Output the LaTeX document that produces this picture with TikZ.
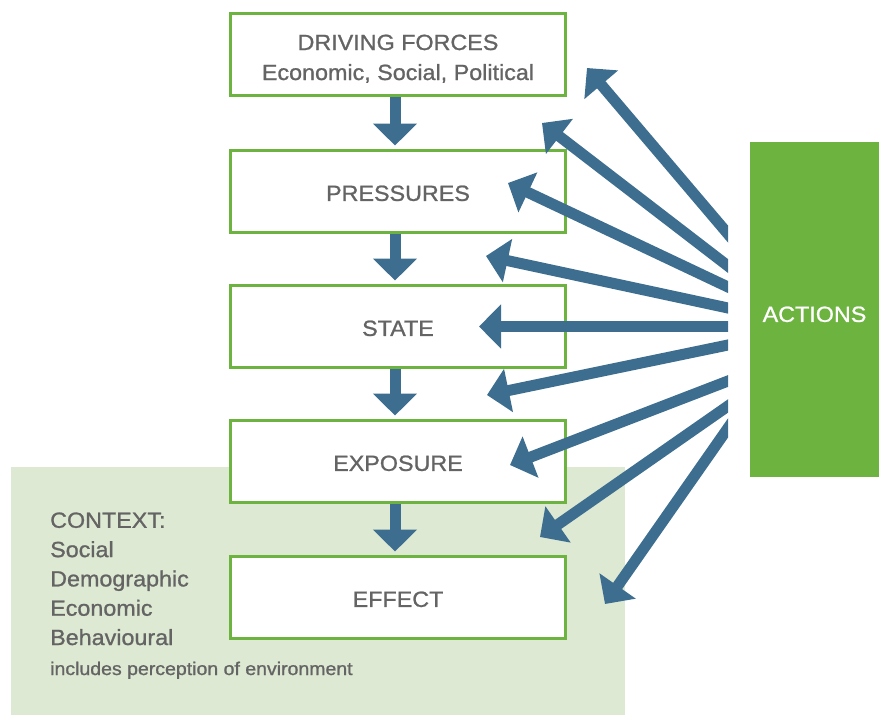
\documentclass[tikz,border=0pt]{standalone}
\usepackage{fontspec}
\setmainfont{Liberation Sans}[FakeStretch=1.06,FakeBold=1]
\usetikzlibrary{arrows.meta}
\definecolor{boxgreen}{HTML}{6DB33F}
\definecolor{ctxgreen}{HTML}{DDE9D2}
\definecolor{arrowblue}{HTML}{3D6E8F}
\definecolor{txtgray}{HTML}{646464}
\begin{document}
\begin{tikzpicture}[x=1pt,y=-1pt,
  stagebox/.style={draw=boxgreen,line width=3pt,fill=white,minimum width=335pt,
    minimum height=82pt,inner sep=0pt,text=txtgray,
    font=\fontsize{22}{30}\selectfont,align=center,text height=19.8pt,text depth=0pt},
  flow/.style={draw=arrowblue,line width=11pt,-{Triangle[length=22pt,width=43pt]}},
  feedback/.style={flow,shorten <=-25pt},
  ctxtext/.style={text=txtgray,inner sep=0pt,align=left}
]
\useasboundingbox (0,0) rectangle (886,715);
% context background
\fill[ctxgreen] (11,467) rectangle (625,715);
\node[ctxtext,anchor=base west,font=\fontsize{22}{29.3}\selectfont] (ctx) at (50,645)
  {CONTEXT:\\Social\\Demographic\\Economic\\Behavioural};
\node[ctxtext,anchor=base west,font=\fontsize{18.4}{22}\selectfont] (ctxnote) at (50,675)
  {includes perception of environment};
% stages
\node[stagebox,text height=51pt] (drv) at (398,54.5) {DRIVING FORCES\\Economic, Social, Political};
\node[stagebox] (prs) at (398,191) {PRESSURES};
\node[stagebox] (stt) at (398,326) {STATE};
\node[stagebox] (exp) at (398,461) {EXPOSURE};
\node[stagebox] (eff) at (398,597) {EFFECT};
% down arrows
\draw[flow] ([xshift=-3pt]drv.south) -- ([xshift=-3pt,yshift=3pt]prs.north);
\draw[flow] ([xshift=-3pt]prs.south) -- ([xshift=-3pt,yshift=3pt]stt.north);
\draw[flow] ([xshift=-3pt]stt.south) -- ([xshift=-3pt,yshift=3pt]exp.north);
\draw[flow] ([xshift=-3pt]exp.south) -- ([xshift=-3pt,yshift=3pt]eff.north);
% actions
\node[fill=boxgreen,minimum width=129pt,minimum height=335pt,inner sep=0pt,
  text=white,font=\fontsize{22}{30}\selectfont,text height=24.8pt,text depth=0pt] (act) at (814.5,309.5) {ACTIONS};
% feedback arrows
\coordinate (t1) at (728,234);   \coordinate (h1) at (587,68);
\coordinate (t2) at (728,266);   \coordinate (h2) at (542,123);
\coordinate (t3) at (728,287);   \coordinate (h3) at (508,183);
\coordinate (t4) at (728,308);   \coordinate (h4) at (486,256);
\coordinate (t5) at (728,326.5); \coordinate (h5) at (479,326.5);
\coordinate (t6) at (728,345);   \coordinate (h6) at (487,395);
\coordinate (t7) at (728,381);   \coordinate (h7) at (510,465);
\coordinate (t8) at (728,406);   \coordinate (h8) at (540,537);
\coordinate (t9) at (728,428);   \coordinate (h9) at (605,604);
\begin{scope}
  \clip (0,0) rectangle (728,715);
  \foreach \i in {1,...,9} {\draw[feedback] (t\i) -- (h\i);}
\end{scope}
\end{tikzpicture}
\end{document}
